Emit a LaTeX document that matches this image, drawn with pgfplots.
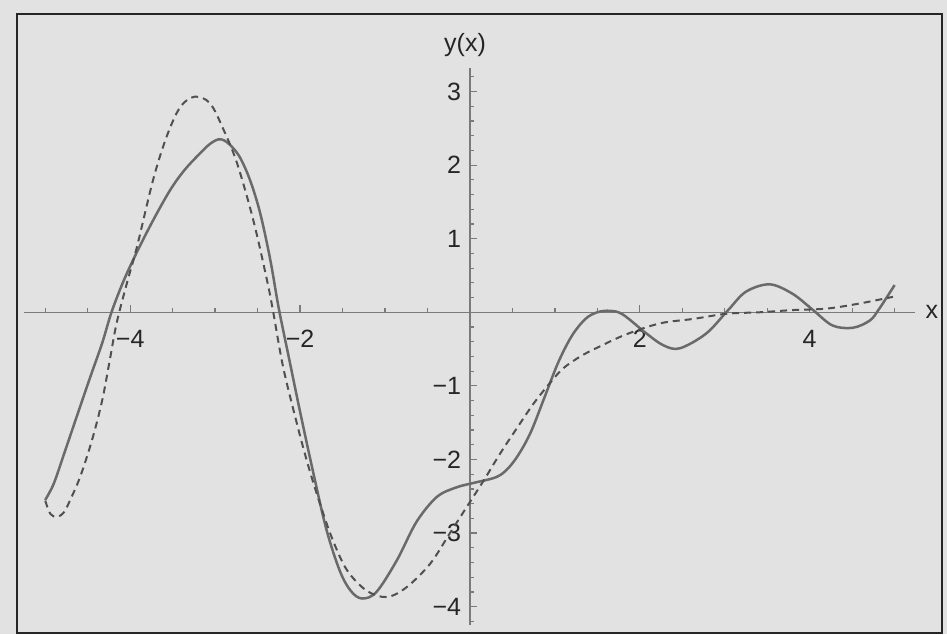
\documentclass[border=0pt]{standalone}
\usepackage{pgfplots}
\pgfplotsset{compat=1.18}
\usepackage{fontspec}
\setmainfont{Liberation Sans}

\definecolor{paper}{HTML}{E2E2E2}
\definecolor{axisgray}{HTML}{7A7A7A}
\definecolor{curvegray}{HTML}{6A6A6A}
\definecolor{dashgray}{HTML}{505050}

\begin{document}
\begin{tikzpicture}[x=1pt,y=1pt]
\useasboundingbox (-9.6,-3.6) rectangle (369.2,250);
\fill[paper] (-9.6,-3.6) rectangle (369.2,250);
\draw[black!85, line width=0.8pt] (-2.8,-3.2) rectangle (367.2,244.4);
\begin{axis}[
  at={(0,0)}, anchor=south west,
  scale only axis, width=356.4pt, height=222.8pt,
  xmin=-5.25, xmax=5.24, ymin=-4.25, ymax=3.32,
  axis lines=middle,
  axis line style={axisgray, line width=0.6pt, -},
  xtick={-4,-2,2,4}, xticklabels={−4,−2,2,4},
  ytick={-4,-3,-2,-1,1,2,3}, yticklabels={−4,−3,−2,−1,1,2,3},
  minor xtick={-5,-4.5,...,5},
  minor ytick={-4.2,-4,...,3.3},
  tick align=inside,
  major tick length=3pt, minor tick length=1.8pt,
  tick style={axisgray, line width=0.5pt},
  ticklabel style={font=\fontsize{10}{12}\selectfont, text=black!85},
  xticklabel style={yshift=-3.5pt},
  xlabel={x}, ylabel={y(x)},
  xlabel style={at={(axis description cs:1.019,0.562)}, anchor=center,
    font=\fontsize{10}{12}\selectfont, text=black!85},
  ylabel style={at={(axis description cs:0.495,1.041)}, anchor=center, rotate=0,
    font=\fontsize{10}{12}\selectfont, text=black!85},
  clip=false,
]
% solution curve
\addplot[curvegray, line width=1pt, smooth, tension=0.55] coordinates {
  (-5.00,-2.55) (-4.90,-2.33) (-4.78,-1.93) (-4.63,-1.42) (-4.47,-0.88)
  (-4.33,-0.42) (-4.22,0.00) (-4.08,0.42) (-3.92,0.82) (-3.73,1.25)
  (-3.53,1.66) (-3.37,1.92) (-3.22,2.11) (-3.09,2.26) (-3.02,2.32)
  (-2.96,2.35) (-2.90,2.34) (-2.82,2.27) (-2.71,2.11) (-2.59,1.80)
  (-2.47,1.35) (-2.35,0.71) (-2.25,0.05) (-2.12,-0.68) (-2.00,-1.35)
  (-1.85,-2.15) (-1.69,-2.95) (-1.53,-3.52) (-1.40,-3.79) (-1.27,-3.89)
  (-1.10,-3.80) (-0.86,-3.37) (-0.63,-2.85) (-0.39,-2.51) (-0.16,-2.38)
  (0.04,-2.32) (0.31,-2.24) (0.45,-2.12) (0.58,-1.92) (0.72,-1.62)
  (0.88,-1.15) (1.04,-0.68) (1.20,-0.32) (1.36,-0.09) (1.50,0.00)
  (1.65,0.02) (1.80,-0.03) (2.08,-0.29) (2.28,-0.45) (2.47,-0.49)
  (2.78,-0.29) (3.04,0.03) (3.25,0.28) (3.53,0.38) (3.80,0.25)
  (4.04,0.03) (4.27,-0.18) (4.51,-0.21) (4.71,-0.11) (4.82,0.05)
  (5.00,0.37)
};
% approximate curve
\addplot[dashgray, line width=0.8pt, dash pattern=on 2.8pt off 2pt, smooth, tension=0.55] coordinates {
  (-5.00,-2.56) (-4.94,-2.74) (-4.86,-2.78) (-4.78,-2.72) (-4.71,-2.56)
  (-4.59,-2.24) (-4.45,-1.74) (-4.33,-1.20) (-4.24,-0.65) (-4.16,-0.15)
  (-4.04,0.39) (-3.92,0.89) (-3.73,1.80) (-3.57,2.39) (-3.41,2.79)
  (-3.24,2.93) (-3.06,2.84) (-2.90,2.48) (-2.74,2.02) (-2.55,1.25)
  (-2.39,0.44) (-2.32,0.03) (-2.20,-0.74) (-2.04,-1.50) (-1.90,-2.10)
  (-1.76,-2.62) (-1.62,-3.08) (-1.45,-3.50) (-1.22,-3.78) (-0.98,-3.87)
  (-0.75,-3.74) (-0.47,-3.42) (-0.24,-3.01) (-0.04,-2.65) (0.16,-2.29)
  (0.35,-1.93) (0.55,-1.58) (0.75,-1.24) (0.95,-0.95) (1.10,-0.76)
  (1.30,-0.60) (1.50,-0.48) (1.84,-0.30) (2.24,-0.15) (2.63,-0.09)
  (3.02,-0.02) (3.41,0.00) (3.80,0.03) (4.20,0.05) (4.59,0.12)
  (4.98,0.21)
};
\end{axis}
\end{tikzpicture}
\end{document}
